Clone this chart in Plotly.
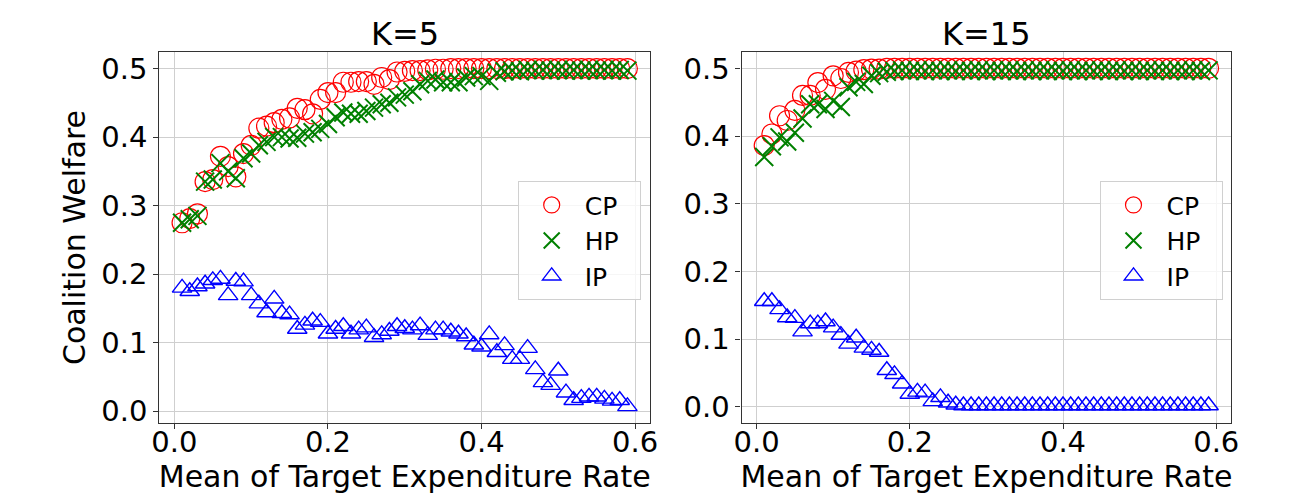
import plotly.graph_objects as go

x_vals = [round(0.01 * i, 2) for i in range(1, 60)]

cp_k5 = [0.275, 0.281, 0.288, 0.335, 0.338, 0.372, 0.357, 0.342, 0.376, 0.388,
         0.413, 0.416, 0.421, 0.426, 0.428, 0.442, 0.440, 0.434, 0.455, 0.465,
         0.465, 0.480, 0.480, 0.481, 0.481, 0.477, 0.487, 0.484, 0.495, 0.496,
         0.497, 0.497, 0.498, 0.499, 0.499, 0.500, 0.500, 0.500, 0.500, 0.500,
         0.500, 0.500, 0.500, 0.500, 0.500, 0.500, 0.500, 0.500, 0.500, 0.500,
         0.500, 0.500, 0.500, 0.500, 0.500, 0.500, 0.500, 0.500, 0.500]
hp_k5 = [0.275, 0.280, 0.285, 0.335, 0.338, 0.362, 0.350, 0.340, 0.369, 0.376,
         0.388, 0.393, 0.400, 0.400, 0.398, 0.399, 0.405, 0.407, 0.412, 0.419,
         0.429, 0.436, 0.434, 0.434, 0.438, 0.443, 0.448, 0.450, 0.458, 0.462,
         0.467, 0.477, 0.482, 0.484, 0.480, 0.480, 0.480, 0.487, 0.489, 0.489,
         0.482, 0.494, 0.496, 0.497, 0.496, 0.498, 0.497, 0.498, 0.497, 0.498,
         0.497, 0.498, 0.497, 0.498, 0.497, 0.498, 0.497, 0.498, 0.497]
ip_k5 = [0.180, 0.175, 0.182, 0.186, 0.191, 0.193, 0.169, 0.190, 0.189, 0.169,
         0.157, 0.144, 0.164, 0.143, 0.141, 0.120, 0.126, 0.132, 0.130, 0.113,
         0.120, 0.124, 0.113, 0.119, 0.122, 0.108, 0.112, 0.117, 0.124, 0.121,
         0.119, 0.125, 0.111, 0.119, 0.119, 0.116, 0.113, 0.109, 0.097, 0.094,
         0.112, 0.086, 0.096, 0.076, 0.076, 0.092, 0.061, 0.042, 0.038, 0.059,
         0.027, 0.016, 0.019, 0.021, 0.021, 0.018, 0.015, 0.016, 0.007]

cp_k15 = [0.386, 0.403, 0.430, 0.423, 0.438, 0.460, 0.460, 0.479, 0.469, 0.489,
          0.485, 0.494, 0.496, 0.498, 0.499, 0.499, 0.500, 0.500, 0.500, 0.500,
          0.500, 0.500, 0.500, 0.500, 0.500, 0.500, 0.500, 0.500, 0.500, 0.500,
          0.500, 0.500, 0.500, 0.500, 0.500, 0.500, 0.500, 0.500, 0.500, 0.500,
          0.500, 0.500, 0.500, 0.500, 0.500, 0.500, 0.500, 0.500, 0.500, 0.500,
          0.500, 0.500, 0.500, 0.500, 0.500, 0.500, 0.500, 0.500, 0.500]
hp_k15 = [0.369, 0.385, 0.398, 0.392, 0.405, 0.426, 0.447, 0.447, 0.440, 0.452,
          0.443, 0.472, 0.480, 0.477, 0.489, 0.493, 0.495, 0.496, 0.497, 0.496,
          0.497, 0.496, 0.497, 0.496, 0.497, 0.496, 0.497, 0.496, 0.497, 0.496,
          0.497, 0.496, 0.497, 0.496, 0.497, 0.496, 0.497, 0.496, 0.497, 0.496,
          0.497, 0.496, 0.497, 0.496, 0.497, 0.496, 0.497, 0.496, 0.497, 0.496,
          0.497, 0.496, 0.497, 0.496, 0.497, 0.496, 0.497, 0.496, 0.497]
ip_k15 = [0.156, 0.156, 0.144, 0.132, 0.131, 0.111, 0.123, 0.123, 0.126, 0.117,
          0.106, 0.093, 0.102, 0.087, 0.084, 0.081, 0.054, 0.048, 0.034, 0.019,
          0.022, 0.021, 0.008, 0.014, 0.006, 0.003, 0.002, 0.002, 0.002, 0.002,
          0.002, 0.002, 0.002, 0.002, 0.002, 0.002, 0.002, 0.002, 0.002, 0.002,
          0.002, 0.002, 0.002, 0.002, 0.002, 0.002, 0.002, 0.002, 0.002, 0.002,
          0.002, 0.002, 0.002, 0.002, 0.002, 0.002, 0.002, 0.002, 0.002]

panel_titles = ["K=5", "K=15"]
series_names = ["CP", "HP", "IP"]
x_tick_vals = [0.0, 0.2, 0.4, 0.6]
y_tick_vals = [0.0, 0.1, 0.2, 0.3, 0.4, 0.5]

FONT = "DejaVu Sans"
W, H = 1310, 502

styles = {
    "CP": dict(symbol="circle-open", size=20, color="#ff0000", line=dict(width=1.2, color="#ff0000")),
    "HP": dict(symbol="x-thin-open", size=18, color="#008000", line=dict(width=2, color="#008000")),
    "IP": dict(symbol="triangle-up-open", size=17, color="#0000ff", line=dict(width=1.4, color="#0000ff")),
}

fig = go.Figure()
panels = [
    (1, "legend", {"CP": cp_k5, "HP": hp_k5, "IP": ip_k5}),
    (2, "legend2", {"CP": cp_k15, "HP": hp_k15, "IP": ip_k15}),
]
for idx, leg, data in panels:
    for name in series_names:
        fig.add_trace(go.Scatter(
            x=x_vals, y=data[name], mode="markers", name=name + "\u00a0\u00a0",
            marker=styles[name],
            xaxis="x" if idx == 1 else "x2", yaxis="y" if idx == 1 else "y2",
            legend=leg,
        ))

axis_common = dict(
    showline=True, linecolor="#333333", linewidth=1.3, mirror=True,
    showgrid=True, gridcolor="#cfcfcf", gridwidth=1,
    zeroline=False, ticks="outside", ticklen=5, tickcolor="#333333",
    tickfont=dict(family=FONT, size=29, color="black"),
)

def px_dom_x(a, b):
    return [a / W, b / W]

def px_dom_y(top, bottom):
    return [1 - bottom / H, 1 - top / H]

xtitle = dict(text="Mean of Target Expenditure Rate", font=dict(family=FONT, size=30), standoff=2)
leg_common = dict(xanchor="left", yanchor="top", itemwidth=56,
                  bgcolor="rgba(255,255,255,0.8)", bordercolor="#d0d0d0", borderwidth=1,
                  font=dict(family=FONT, size=25, color="black"))

fig.update_layout(
    width=W, height=H,
    margin=dict(l=0, r=0, t=0, b=0),
    paper_bgcolor="white", plot_bgcolor="white",
    font=dict(family=FONT, color="black"),
    xaxis=dict(axis_common, domain=px_dom_x(153.3, 650), range=[-0.0195, 0.6195],
               tickvals=x_tick_vals, tickformat=".1f", anchor="y", ticklabelstandoff=-12,
               title=xtitle),
    yaxis=dict(axis_common, domain=px_dom_y(52.3, 427.5), range=[-0.0176, 0.5245],
               tickvals=y_tick_vals, tickformat=".1f", anchor="x",
               title=dict(text="Coalition Welfare", font=dict(family=FONT, size=30), standoff=6)),
    xaxis2=dict(axis_common, domain=px_dom_x(742.7, 1238.3), range=[-0.0195, 0.6195],
                tickvals=x_tick_vals, tickformat=".1f", anchor="y2", ticklabelstandoff=-12,
                title=xtitle),
    yaxis2=dict(axis_common, domain=px_dom_y(52.3, 427.3), range=[-0.024, 0.5245],
                tickvals=y_tick_vals, tickformat=".1f", anchor="x2"),
    legend=dict(leg_common, x=516 / W, y=1 - 183 / H),
    legend2=dict(leg_common, x=1105 / W, y=1 - 183 / H),
    annotations=[
        dict(text=panel_titles[0], x=(153.3 + 650) / 2 / W, y=1 - 34 / H, xref="paper", yref="paper",
             showarrow=False, xanchor="center", yanchor="middle", font=dict(family=FONT, size=32)),
        dict(text=panel_titles[1], x=(742.7 + 1238.3) / 2 / W, y=1 - 34 / H, xref="paper", yref="paper",
             showarrow=False, xanchor="center", yanchor="middle", font=dict(family=FONT, size=32)),
    ],
)

fig.write_html("out.html", config={"displayModeBar": False},
               post_script="document.body.style.margin='0';document.body.style.overflow='hidden';")
